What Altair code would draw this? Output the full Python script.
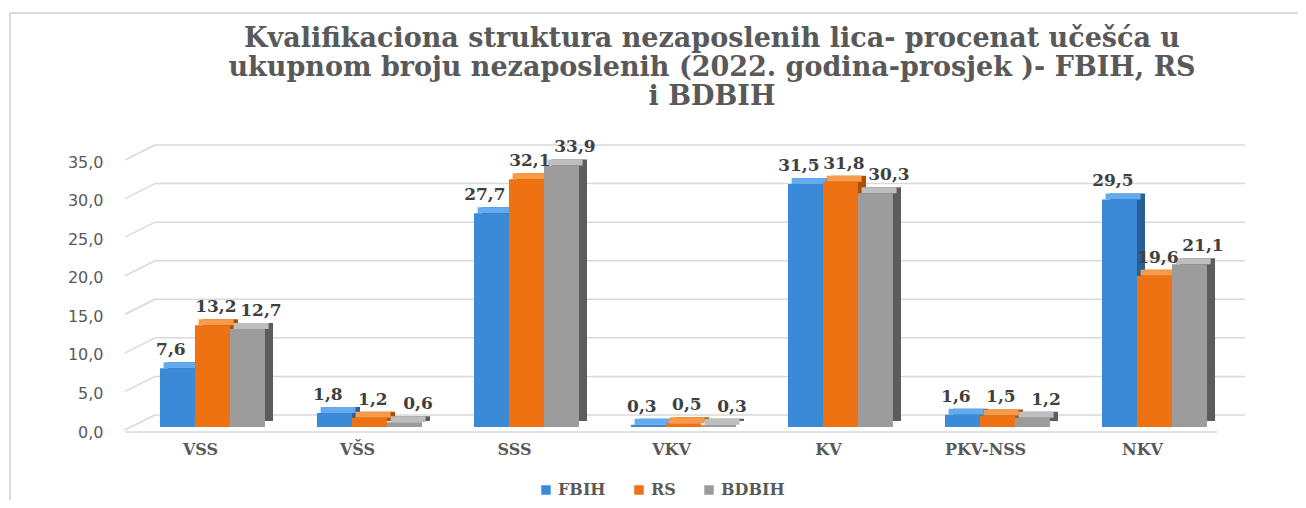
import altair as alt
import pandas as pd

categories = ["VSS", "VŠS", "SSS", "VKV", "KV", "PKV-NSS", "NKV"]
series = ["FBIH", "RS", "BDBIH"]
fbih = [7.6, 1.8, 27.7, 0.3, 31.5, 1.6, 29.5]
rs = [13.2, 1.2, 32.1, 0.5, 31.8, 1.5, 19.6]
bdbih = [12.7, 0.6, 33.9, 0.3, 30.3, 1.2, 21.1]
y_ticks = [0, 5, 10, 15, 20, 25, 30, 35]

title_lines = [
    "Kvalifikaciona struktura  nezaposlenih lica- procenat učešća u",
    "ukupnom broju nezaposlenih (2022. godina-prosjek )- FBIH, RS",
    "i BDBIH",
]

front_colors = ["#3A8AD8", "#EF7212", "#9C9C9C"]
top_colors = ["#63ABEE", "#F99A4A", "#BEBEBE"]
side_colors = ["#2A5E94", "#AD4F08", "#5C5C5C"]

rows = []
for i, c in enumerate(categories):
    for s, vals in zip(series, [fbih, rs, bdbih]):
        rows.append({"cat": c, "series": s, "value": vals[i]})
df = pd.DataFrame(rows)
ticks_df = pd.DataFrame({"t": y_ticks})

W, H = 1099, 270
GRID = "#D9D9D9"
TXT = "#595959"
SERIF = "DejaVu Serif"
SANS = "DejaVu Sans"

yscale = alt.Scale(domain=[0, 35], nice=False, zero=True)
xscale = alt.Scale(domain=categories, paddingInner=0, paddingOuter=0)


def xoff(align):
    return alt.XOffset("series:N", sort=series,
                       scale=alt.Scale(domain=series, paddingInner=0,
                                       paddingOuter=0.743, align=align))


base = alt.Chart(df)

# back-wall gridlines
grid_back = alt.Chart(ticks_df).mark_rule(color=GRID, strokeWidth=1.5, yOffset=-12).encode(
    y=alt.Y("t:Q", scale=yscale,
            axis=alt.Axis(title=None, grid=False, domain=False, ticks=False,
                          values=y_ticks,
                          labelExpr="replace(format(datum.value,'.1f'),'.',',')",
                          labelFont=SANS, labelFontSize=16,
                          labelColor=TXT, labelPadding=19, labelOffset=5)),
    x=alt.value(33), x2=alt.value(1123),
)
grid_diag = alt.Chart(ticks_df).mark_rule(color=GRID, strokeWidth=1.5, yOffset=3, y2Offset=-12).encode(
    y=alt.Y("t:Q", scale=yscale, axis=None), y2="t",
    x=alt.value(3), x2=alt.value(33),
)
floor_front = alt.Chart(ticks_df).transform_filter("datum.t == 0").mark_rule(
    color=GRID, strokeWidth=1.5, yOffset=5).encode(
    y=alt.Y("t:Q", scale=yscale, axis=None),
    x=alt.value(3), x2=alt.value(1095),
)

side = base.mark_bar(yOffset=-6, y2Offset=-6).encode(
    x=alt.X("cat:N", sort=categories, scale=xscale, axis=None),
    xOffset=xoff(0.885),
    y=alt.Y("value:Q", scale=yscale, axis=None),
    color=alt.Color("series:N", sort=series,
                    scale=alt.Scale(domain=series, range=side_colors), legend=None),
)
top = base.mark_bar(yOffset=-6).encode(
    x=alt.X("cat:N", sort=categories, scale=xscale, axis=None),
    xOffset=xoff(0.80),
    y=alt.Y("value:Q", scale=yscale, axis=None),
    y2=alt.Y2("value"),
    color=alt.Color("series:N", sort=series,
                    scale=alt.Scale(domain=series, range=top_colors), legend=None),
)
front = base.mark_bar().encode(
    x=alt.X("cat:N", sort=categories, scale=xscale,
            axis=alt.Axis(title=None, domain=False, ticks=False, labelAngle=0,
                          labelFont=SERIF, labelFontWeight="bold", labelFontSize=16,
                          labelColor=TXT, labelPadding=14)),
    xOffset=xoff(0.73),
    y=alt.Y("value:Q", scale=yscale, axis=None),
    color=alt.Color("series:N", sort=series,
                    scale=alt.Scale(domain=series, range=front_colors),
                    legend=alt.Legend(title=None, orient="none", legendX=416, legendY=325,
                                      direction="horizontal", symbolType="square",
                                      symbolSize=90, symbolStrokeWidth=0,
                                      labelFont=SERIF, labelFontWeight="bold",
                                      labelFontSize=16, labelColor=TXT,
                                      columnPadding=25, padding=0)),
)
labels = base.transform_calculate(
    lbl="replace(format(datum.value,'.1f'),'.',',')"
).mark_text(dy=-13, baseline="alphabetic", font=SERIF, fontWeight="bold",
            fontSize=17, color="#404040").encode(
    x=alt.X("cat:N", sort=categories, scale=xscale, axis=None),
    xOffset=xoff(0.73),
    y=alt.Y("value:Q", scale=yscale, axis=None),
    text="lbl:N",
)

title_df = pd.DataFrame({"title": ["\n".join(title_lines)]})
title = alt.Chart(title_df).mark_text(
    font=SERIF, fontSize=27, fontWeight="bold", color=TXT, lineBreak="\n",
    lineHeight=29, align="center", baseline="top").encode(
    text="title:N", x=alt.value(590), y=alt.value(-131))

border_df = pd.DataFrame({"k": [0]})
border_top = alt.Chart(border_df).mark_rule(color=GRID, strokeWidth=2).encode(
    x=alt.value(-112), x2=alt.value(1184), y=alt.value(-144))
border_left = alt.Chart(border_df).mark_rule(color=GRID, strokeWidth=2).encode(
    x=alt.value(-112), y=alt.value(-144), y2=alt.value(400))

chart = alt.layer(
    border_top, border_left, title, grid_back, grid_diag, floor_front, side, top, front, labels
).resolve_scale(
    xOffset="independent", color="independent"
).resolve_axis(
    x="independent", y="independent"
).properties(
    width=W, height=H,
    background="white",
    autosize=alt.AutoSizeParams(type="none"),
    padding={"left": 114, "top": 149, "right": 77, "bottom": 73},
).configure_view(stroke=None)

chart.save("out.html", embed_options={"renderer": "svg", "actions": False})
